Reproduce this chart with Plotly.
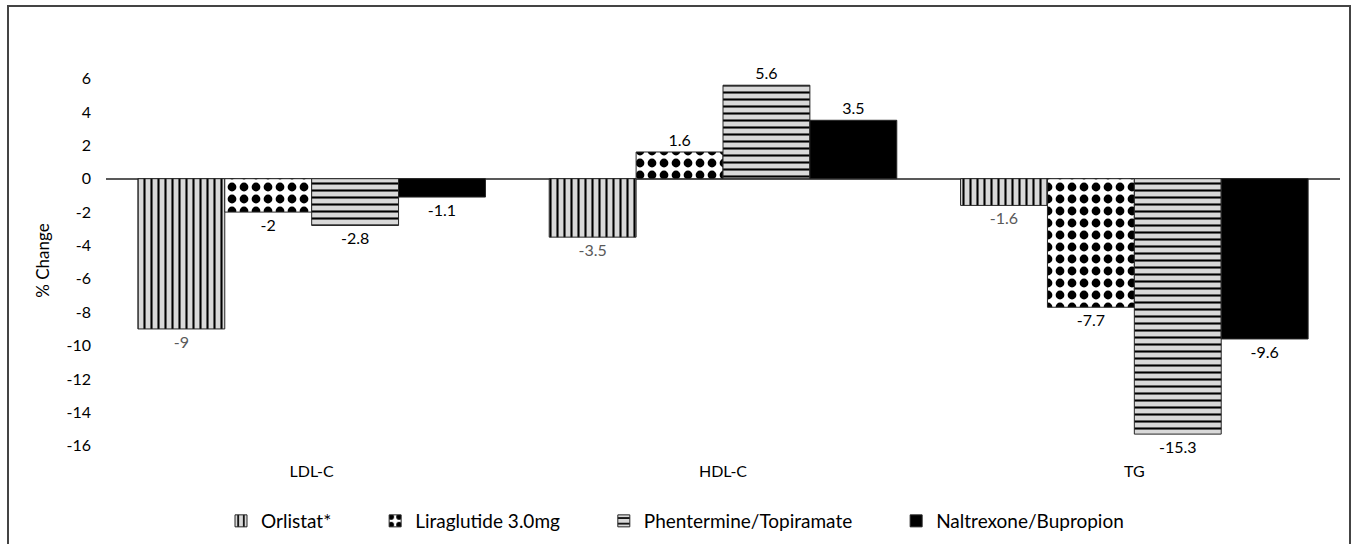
import plotly.graph_objects as go

categories = ["LDL-C", "HDL-C", "TG"]
orlistat = [-9, -3.5, -1.6]
liraglutide = [-2, 1.6, -7.7]
phentermine = [-2.8, 5.6, -15.3]
naltrexone = [-1.1, 3.5, -9.6]
series_names = ["Orlistat*", "Liraglutide 3.0mg", "Phentermine/Topiramate", "Naltrexone/Bupropion"]
y_ticks = list(range(-16, 7, 2))
y_tick_labels = [str(v) for v in y_ticks]

FONT = "Lato"
PAD = "\u00a0" * 8

styles = [
    dict(shape="|", bg="#d9d9d9", fg="#000000", size=7, solidity=0.3, text="#595959"),
    dict(shape=".", bg="#ffffff", fg="#000000", size=12, solidity=0.42, text="#000000"),
    dict(shape="-", bg="#d9d9d9", fg="#000000", size=7, solidity=0.3, text="#000000"),
    dict(shape="", bg="#000000", fg="#000000", size=8, solidity=0.3, text="#000000"),
]

fig = go.Figure()
for i, (name, vals, st) in enumerate(zip(series_names, [orlistat, liraglutide, phentermine, naltrexone], styles)):
    label = name + (PAD if i < len(series_names) - 1 else "")
    fig.add_trace(go.Bar(
        x=categories, y=vals, name=label,
        marker=dict(
            color=st["bg"],
            line=dict(color="#262626", width=1),
            pattern=dict(shape=st["shape"], bgcolor=st["bg"], fgcolor=st["fg"], fgopacity=1,
                         size=st["size"], solidity=st["solidity"]),
        ),
        text=[str(v) for v in vals], textposition="outside",
        textfont=dict(family=FONT, size=16, color=st["text"]),
        cliponaxis=False,
    ))

L, R, T, B = 106, 17, 61, 84
W, H = 1357, 544
pw, ph = W - L - R, H - T - B

def px_x(p):
    return (p - L) / pw

def px_y(p):
    return (H - B - p) / ph

fig.update_layout(
    width=W, height=H,
    margin=dict(l=L, r=R, t=T, b=B, autoexpand=False),
    paper_bgcolor="white", plot_bgcolor="white",
    barmode="group", bargap=0.155, bargroupgap=0,
    font=dict(family=FONT, size=16, color="#000000"),
    showlegend=True,
    legend=dict(orientation="h", x=px_x(221), xanchor="left", y=px_y(521), yanchor="middle",
                font=dict(family=FONT, size=19, color="#000000"), itemwidth=30,
                traceorder="normal"),
    xaxis=dict(showline=False, ticks="", showgrid=False, zeroline=False,
               ticklabelstandoff=0,
               tickfont=dict(family=FONT, size=16, color="#000000")),
    yaxis=dict(range=[-16.85, 7.05], tickvals=y_ticks, ticktext=y_tick_labels,
               showgrid=False, showline=False, ticks="",
               zeroline=True, zerolinecolor="#595959", zerolinewidth=1.5,
               ticklabelstandoff=14,
               tickfont=dict(family=FONT, size=16, color="#000000"),
               title=dict(text="% Change", standoff=12, font=dict(family=FONT, size=17, color="#000000"))),
    shapes=[dict(type="rect", xref="paper", yref="paper",
                 x0=px_x(8), x1=px_x(1350), y0=px_y(552), y1=px_y(6),
                 line=dict(color="#444444", width=2), fillcolor="rgba(0,0,0,0)", layer="below")],
)

fig.write_html("out.html")
